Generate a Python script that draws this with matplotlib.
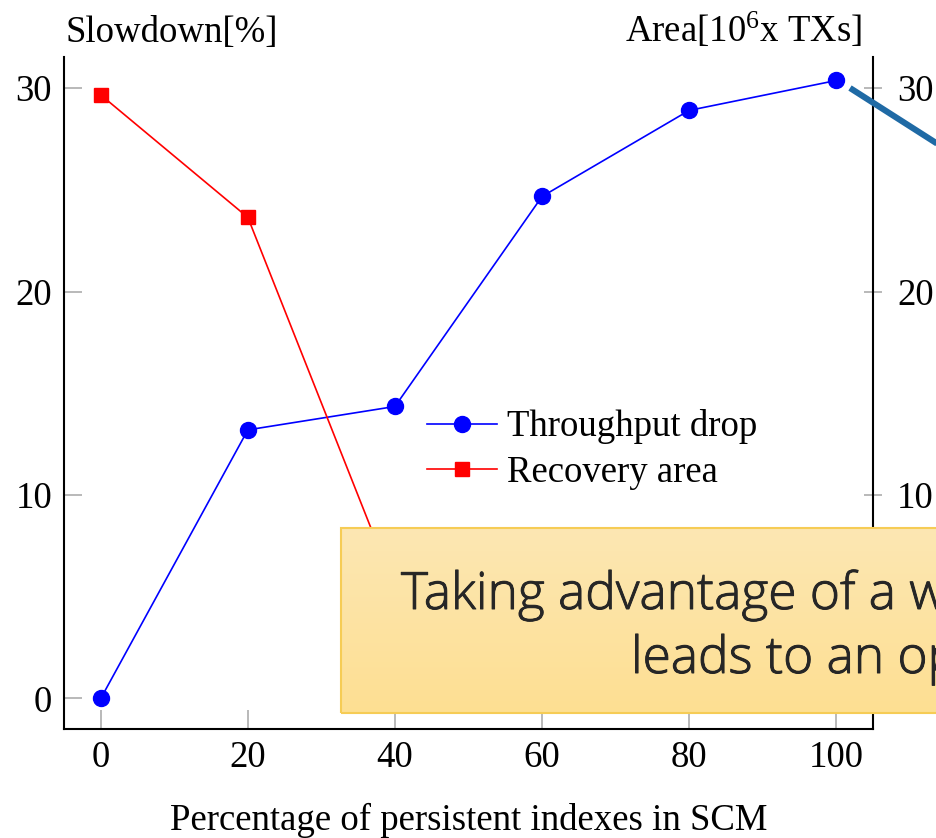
import numpy as np
import matplotlib
matplotlib.use("Agg")
import matplotlib.pyplot as plt
import matplotlib.patheffects as pe
from matplotlib.lines import Line2D
from matplotlib.patches import Rectangle
from matplotlib.colors import LinearSegmentedColormap

# share of persistent indexes kept in SCM
pct_scm = [0, 20, 40, 60, 80, 100]
throughput_drop = [0.0, 13.2, 14.35, 24.67, 28.9, 30.37]
recovery_area = [29.66, 23.64, 5.4, 2.4, 1.2, 0.6]
x_ticks = [0, 20, 40, 60, 80, 100]
y_ticks = [0, 10, 20, 30]

plt.rcParams["font.family"] = ["Liberation Serif", "DejaVu Serif"]
plt.rcParams["mathtext.fontset"] = "custom"
plt.rcParams["mathtext.rm"] = "Liberation Serif"
plt.rcParams["mathtext.it"] = "Liberation Serif:italic"

W, H = 936, 838
FS = 26.5
TICK_GRAY = "#a6a6a6"

fig = plt.figure(figsize=(W / 100, H / 100), dpi=100)
ax = fig.add_axes([64 / W, 1 - 729 / H, 809 / W, 671.5 / H])
ax2 = ax.twinx()

l1, = ax.plot(pct_scm, throughput_drop, color="#0000ff", lw=1.2,
              marker="o", ms=11.5, mec="#0000ff", label="Throughput drop")
l2, = ax2.plot(pct_scm, recovery_area, color="#ff0000", lw=1.2,
               marker="s", ms=9.8, mec="#ff0000", label="Recovery area")

for a in (ax, ax2):
    a.set_xlim(-5, 105)
    a.set_ylim(-1.5, 31.5)
    a.set_yticks(y_ticks)
ax.set_xticks(x_ticks)

ax.spines["top"].set_visible(False)
ax.spines["right"].set_visible(False)
for s in ("top", "left", "bottom"):
    ax2.spines[s].set_visible(False)
for a, s in ((ax, "left"), (ax, "bottom"), (ax2, "right")):
    a.spines[s].set_linewidth(1.5)

ax.tick_params(axis="x", direction="in", length=13.5, width=1.1,
               color=TICK_GRAY, labelsize=FS, pad=8.5, top=False)
ax.tick_params(axis="y", direction="in", length=13, width=1.1,
               color=TICK_GRAY, labelsize=FS, pad=8.6, right=False)
ax2.tick_params(axis="y", direction="inout", length=13.6, width=1.1,
                color=TICK_GRAY, labelsize=FS, pad=10.4)

ax.set_xlabel("Percentage of persistent indexes in SCM", fontsize=FS, va="baseline")
ax.xaxis.set_label_coords(0.5, (729 - 830) / 671.5)

ax.text(2 / 809, 1 + 15.5 / 671.5, "Slowdown[%]", transform=ax.transAxes,
        fontsize=FS, ha="left", va="baseline")
ax.text(1 - 11.5 / 809, 1 + 15.5 / 671.5, r"Area[10$^{6}$x TXs]",
        transform=ax.transAxes, fontsize=FS, ha="right", va="baseline")

ax.legend(handles=[l1, l2], loc="center left", bbox_to_anchor=(0.4487, 0.416),
          frameon=False, borderpad=0, borderaxespad=0, handlelength=1.9,
          handletextpad=0.27, labelspacing=0.3, fontsize=FS, numpoints=1)

# callout box laid over the lower right of the plot
bx0, by0, bx1, by1 = 341, 528, 960, 713
bax = fig.add_axes([bx0 / W, 1 - by1 / H, (bx1 - bx0) / W, (by1 - by0) / H])
grad = LinearSegmentedColormap.from_list("callout", ["#fce7b3", "#fedf92"])
bax.imshow(np.linspace(0, 1, 256).reshape(-1, 1), cmap=grad, aspect="auto",
           extent=(0, 1, 0, 1), origin="upper")
bax.add_patch(Rectangle((0, 0), 1, 1, transform=bax.transAxes, fill=False,
                        edgecolor="#f6cc55", lw=1.5, clip_on=False))
bax.set_xlim(0, 1)
bax.set_ylim(0, 1)
bax.axis("off")

box_font = dict(family=["Open Sans", "DejaVu Sans"], fontweight="light",
                color="#262626", fontsize=37, va="baseline", ha="left",
                path_effects=[pe.withStroke(linewidth=0.7, foreground="#262626")])
fig.text(401 / W, 1 - 609 / H, "Taking advantage of a w", **box_font)
fig.text(631 / W, 1 - 673 / H, "leads to an op", **box_font)

# connector line running off to the right
fig.add_artist(Line2D([850 / W, 980 / W], [1 - 88 / H, 1 - 171 / H],
                      transform=fig.transFigure, color="#1f6aa5", lw=4.4,
                      solid_capstyle="butt"))

fig.savefig("out.png", dpi=100)
